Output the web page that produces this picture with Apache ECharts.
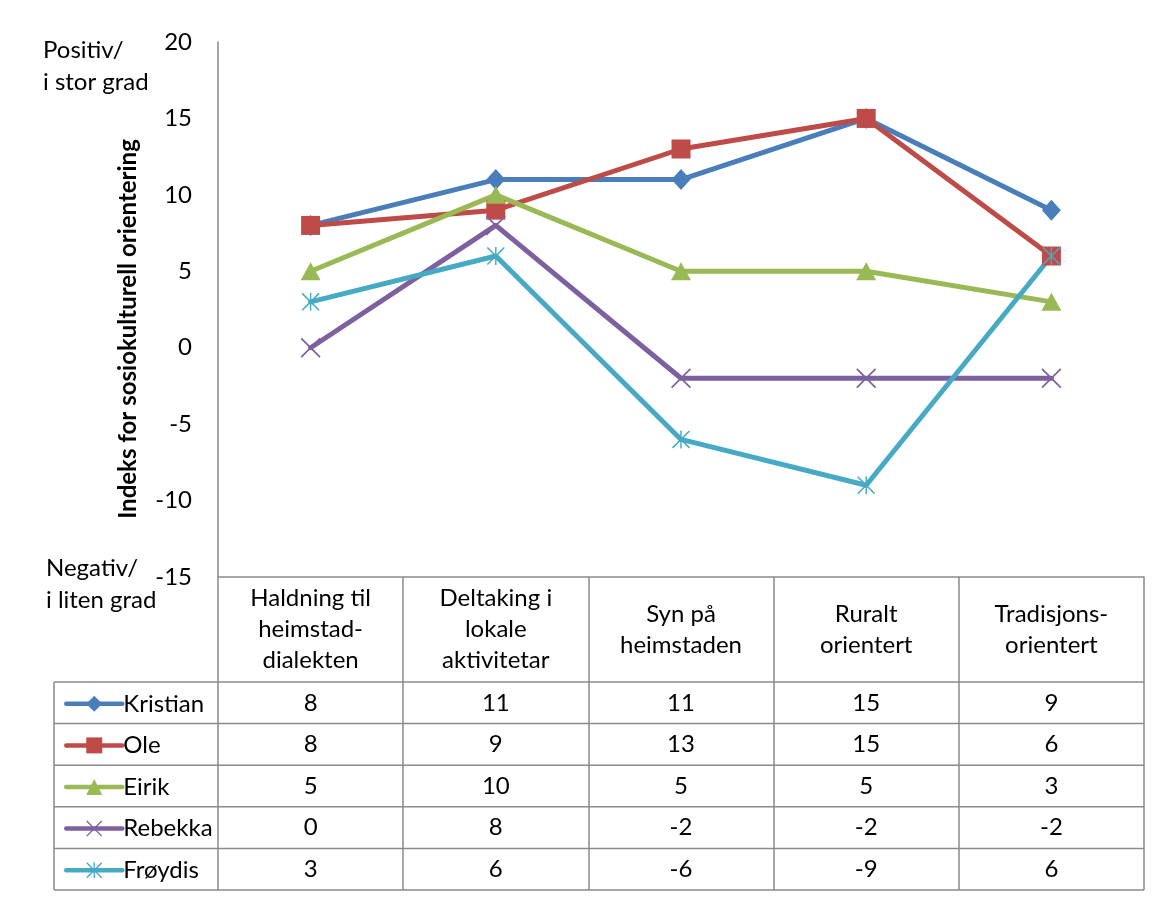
<!DOCTYPE html>
<html>
<head>
<meta charset="utf-8">
<script src="https://cdn.jsdelivr.net/npm/echarts@6/dist/echarts.min.js"></script>
<style>html,body{margin:0;padding:0;background:#fff}#c{width:1165px;height:899px}</style>
</head>
<body>
<div id="c"></div>
<script>
const categories = ['Haldning til\nheimstad-\ndialekten', 'Deltaking i\nlokale\naktivitetar', 'Syn på\nheimstaden', 'Ruralt\norientert', 'Tradisjons-\norientert'];
const seriesNames = ['Kristian', 'Ole', 'Eirik', 'Rebekka', 'Frøydis'];
const kristian = [8, 11, 11, 15, 9];
const ole = [8, 9, 13, 15, 6];
const eirik = [5, 10, 5, 5, 3];
const rebekka = [0, 8, -2, -2, -2];
const froydis = [3, 6, -6, -9, 6];
const yMin = -15, yMax = 20, yStep = 5;
const yTitle = 'Indeks for sosiokulturell orientering';
const topNote = 'Positiv/\ni stor grad';
const bottomNote = 'Negativ/\ni liten grad';

const values = [kristian, ole, eirik, rebekka, froydis];
const colors = ['#4A7EBB', '#BE4B48', '#98B954', '#7D60A0', '#46AAC5'];
const XPATH = 'path://M0,6 L6,0 L100,94 L94,100 Z M94,0 L100,6 L6,100 L0,94 Z';
const STARPATH = 'path://M0,6 L6,0 L100,94 L94,100 Z M94,0 L100,6 L6,100 L0,94 Z M46,0 L54,0 L54,100 L46,100 Z';
const symbols = ['diamond', 'rect', 'triangle', XPATH, STARPATH];
const symbolSizes = [[19, 21], 19, [20, 18], 20, 18];

const FONT = 'Lato';
const FS = 24;
const GRID = {left: 218, right: 21, top: 42, bottom: 322};
const AXIS_Y = 899 - GRID.bottom;   // 577
const TABLE_TOP = 682, ROW_H = 41.6, TABLE_LEFT = 54, TABLE_RIGHT = 1144;
const LINE_C = '#8a8a8a';

const xAxes = [{
  type: 'category', data: categories, boundaryGap: true, gridIndex: 0,
  axisLine: {onZero: false, lineStyle: {color: LINE_C, width: 1.5}},
  axisTick: {show: true, interval: 0, length: TABLE_TOP + 5 * ROW_H - AXIS_Y, lineStyle: {color: LINE_C, width: 1.5}},
  axisLabel: {interval: 0, color: '#000', fontFamily: FONT, fontSize: FS, lineHeight: 31, verticalAlign: 'middle', margin: (TABLE_TOP - AXIS_Y) / 2}
}];
values.forEach((arr, i) => {
  xAxes.push({
    type: 'category', data: categories, boundaryGap: true, gridIndex: 0, position: 'bottom',
    offset: TABLE_TOP + ROW_H * (i + 0.5) - AXIS_Y,
    axisLine: {show: false, onZero: false}, axisTick: {show: false},
    axisLabel: {interval: 0, margin: 0, verticalAlign: 'middle', color: '#000', fontFamily: FONT, fontSize: FS,
      formatter: (v, idx) => String(arr[idx])}
  });
});

const series = values.map((arr, i) => ({
  name: seriesNames[i], type: 'line', data: arr, xAxisIndex: 0,
  symbol: symbols[i], symbolSize: symbolSizes[i], showAllSymbol: true,
  lineStyle: {color: colors[i], width: 5, cap: 'round', join: 'round'},
  itemStyle: {color: colors[i], borderWidth: 0},
  emphasis: {disabled: true}
}));

const graphics = [];
for (let i = 0; i <= 5; i++) {
  const y = TABLE_TOP + i * ROW_H;
  graphics.push({type: 'line', shape: {x1: TABLE_LEFT, y1: y, x2: TABLE_RIGHT, y2: y}, style: {stroke: LINE_C, lineWidth: 1.5}});
}
graphics.push({type: 'line', shape: {x1: TABLE_LEFT, y1: TABLE_TOP, x2: TABLE_LEFT, y2: TABLE_TOP + 5 * ROW_H}, style: {stroke: LINE_C, lineWidth: 1.5}});
graphics.push({type: 'text', x: 43, y: 34, style: {text: topNote, font: FS + 'px ' + FONT, fill: '#000', lineHeight: 32}});
graphics.push({type: 'text', x: 46, y: 552, style: {text: bottomNote, font: FS + 'px ' + FONT, fill: '#000', lineHeight: 32}});
graphics.push({type: 'text', x: 128, y: 329, rotation: Math.PI / 2, style: {text: yTitle, font: 'bold ' + FS + 'px ' + FONT, fill: '#000', textAlign: 'center', textVerticalAlign: 'middle'}});

const chart = echarts.init(document.getElementById('c'), null, {renderer: 'canvas'});
chart.setOption({
  animation: false,
  backgroundColor: '#fff',
  grid: GRID,
  legend: {
    orient: 'vertical', left: 59, top: TABLE_TOP + ROW_H / 2 - 16,
    itemWidth: 56, itemHeight: 20, itemGap: ROW_H - 24,
    data: seriesNames,
    lineStyle: {width: 4.5, cap: 'round'},
    textStyle: {color: '#000', fontFamily: FONT, fontSize: FS, lineHeight: 24, padding: [0, 0, 0, -4]}
  },
  xAxis: xAxes,
  yAxis: {
    type: 'value', min: yMin, max: yMax, interval: yStep,
    axisLine: {show: true, lineStyle: {color: LINE_C, width: 1.5}},
    axisTick: {show: false}, splitLine: {show: false},
    axisLabel: {color: '#000', fontFamily: FONT, fontSize: FS, margin: 26}
  },
  series: series,
  graphic: graphics
});
</script>
</body>
</html>
